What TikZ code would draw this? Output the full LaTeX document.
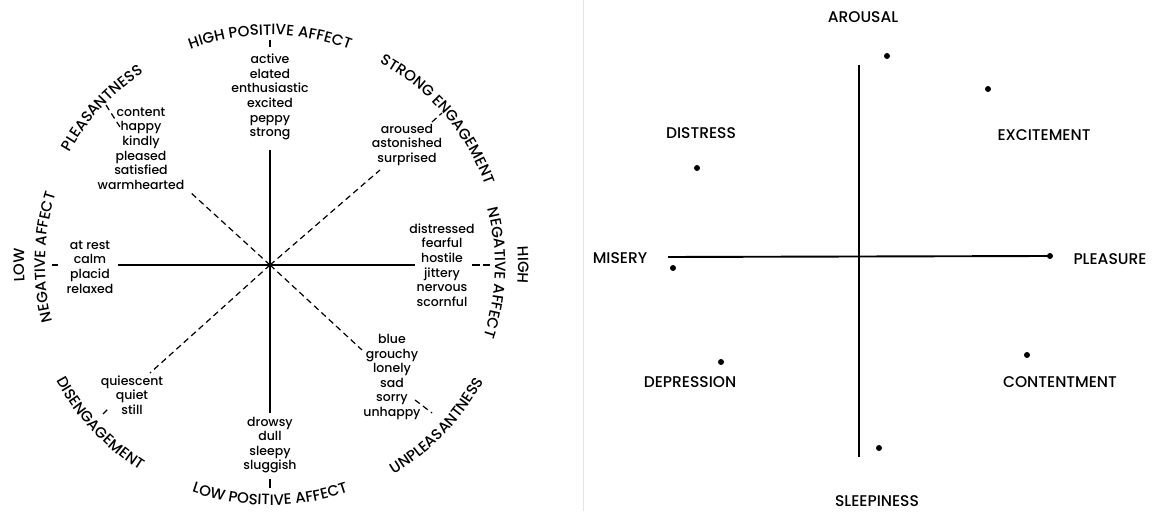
\documentclass[tikz,border=0pt]{standalone}
\usepackage{fontspec}
\setmainfont{Poppins}[UprightFont={* Medium}]
\usetikzlibrary{decorations.text}
\tikzset{
 words/.style={align=center, inner sep=0pt, font=\fontsize{12.5}{14.6}\selectfont},
 axislbl/.style={inner sep=0pt, font=\fontsize{15.5}{16}\selectfont},
 solidline/.style={line width=1.5pt},
 dashline/.style={line width=1.2pt, dash pattern=on 6pt off 4pt},
 dot/.style={circle, fill=black, inner sep=0pt, minimum size=6pt},
 arclabel/.style={decorate, decoration={text along path, text align=center, text={|\fontsize{15}{15}\selectfont|#1}}},
}
\begin{document}
\begin{tikzpicture}[x=1pt,y=1pt]
\useasboundingbox (0,0) rectangle (1153,511);
% ---------------- left circumplex ----------------
\coordinate (C) at (270,246);
\node[words] (hpa) at (270,414) {active\\elated\\enthusiastic\\excited\\peppy\\strong};
\node[words] (ple) at (141,362.5) {content\\happy\\kindly\\pleased\\satisfied\\warmhearted};
\node[words] (se) at (407,366) {aroused\\astonished\\surprised};
\node[words] (lna) at (90,244) {at rest\\calm\\placid\\relaxed};
\node[words] (hna) at (442,246) {distressed\\fearful\\hostile\\jittery\\nervous\\scornful};
\node[words] (unp) at (392,134) {blue\\grouchy\\lonely\\sad\\sorry\\unhappy};
\node[words] (dis) at (132,116) {quiescent\\quiet\\still};
\node[words] (lpa) at (270,66) {drowsy\\dull\\sleepy\\sluggish};
% axes
\coordinate (vTop) at (270,361);
\coordinate (vBot) at (270,98);
\coordinate (hL) at (118,246);
\coordinate (hR) at (415,246);
\draw[solidline] (vTop) -- (vBot);
\draw[solidline] (hL) -- (hR);
% diagonals
\coordinate (dPle) at (190,319);
\coordinate (dSe) at (380,341);
\coordinate (dUnp) at (362,161);
\coordinate (dDis) at (150,138);
\draw[dashline] (C) -- (dPle);
\draw[dashline] (C) -- (dSe);
\draw[dashline] (C) -- (dUnp);
\draw[dashline] (C) -- (dDis);
% ticks
\coordinate (tTa) at (270,471); \coordinate (tTb) at (270,464);
\coordinate (tBa) at (270,32);  \coordinate (tBb) at (270,23);
\coordinate (tLa) at (52,246);  \coordinate (tLb) at (58,246);
\coordinate (tRa) at (472,246); \coordinate (tRb) at (490,246);
\coordinate (tPa) at (106,406); \coordinate (tPb) at (120,384);
\coordinate (tSa) at (432,389); \coordinate (tSb) at (442,398);
\coordinate (tUa) at (415,111); \coordinate (tUb) at (432,98);
\coordinate (tDa) at (103,97);  \coordinate (tDb) at (110,104);
\draw[solidline] (tTa) -- (tTb);
\draw[solidline] (tBa) -- (tBb);
\draw[solidline] (tLa) -- (tLb);
\draw[dashline, dash pattern=on 8pt off 3pt] (tRa) -- (tRb);
\draw[dashline] (tPa) -- (tPb);
\draw[dashline] (tSa) -- (tSb);
\draw[dashline] (tUa) -- (tUb);
\draw[dashline] (tDa) -- (tDb);
% outer labels (clockwise)
\path[arclabel={HIGH POSITIVE AFFECT}] ([shift={(150:230)}]C) arc[start angle=150, end angle=30, radius=230];
\path[arclabel={STRONG ENGAGEMENT}] ([shift={(101:230)}]C) arc[start angle=101, end angle=-19, radius=230];
\path[arclabel={PLEASANTNESS}] ([shift={(197:230)}]C) arc[start angle=197, end angle=77, radius=230];
\path[arclabel={LOW}] ([shift={(240:246)}]C) arc[start angle=240, end angle=120, radius=246];
\path[arclabel={NEGATIVE AFFECT}] ([shift={(238:225)}]C) arc[start angle=238, end angle=118, radius=225];
\path[arclabel={HIGH}] ([shift={(60:248)}]C) arc[start angle=60, end angle=-60, radius=248];
\path[arclabel={NEGATIVE AFFECT}] ([shift={(58:225)}]C) arc[start angle=58, end angle=-62, radius=225];
% outer labels (counter-clockwise)
\path[arclabel={LOW POSITIVE AFFECT}] ([shift={(210:240)}]C) arc[start angle=210, end angle=330, radius=240];
\path[arclabel={DISENGAGEMENT}] ([shift={(163:243)}]C) arc[start angle=163, end angle=283, radius=243];
\path[arclabel={UNPLEASANTNESS}] ([shift={(256:243)}]C) arc[start angle=256, end angle=376, radius=243];
% ---------------- right plot ----------------
\coordinate (edgeT) at (583,511); \coordinate (edgeB) at (583,0);
\draw[black!10, line width=0.6pt] (edgeT) -- (edgeB);
\coordinate (aTop) at (859,446);
\coordinate (aBot) at (859,54);
\coordinate (aL) at (668,254);
\coordinate (aR) at (1050,255);
\draw[line width=1.9pt] (aTop) -- (aBot);
\draw[line width=1.9pt] (aL) -- (aR);
\node[dot] (pAro) at (887,455) {};
\node[dot] (pExc) at (988,422) {};
\node[dot] (pDis) at (697,343) {};
\node[dot] (pMis) at (673,243) {};
\node[dot] (pPle) at (1050,255) {};
\node[dot] (pDep) at (721,149) {};
\node[dot] (pCon) at (1027,156) {};
\node[dot] (pSle) at (879,63) {};
\node[axislbl] (lAro) at (863,494) {AROUSAL};
\node[axislbl] (lDis) at (701,378) {DISTRESS};
\node[axislbl] (lExc) at (1044,376) {EXCITEMENT};
\node[axislbl] (lMis) at (620,253) {MISERY};
\node[axislbl] (lPle) at (1110,252) {PLEASURE};
\node[axislbl] (lDep) at (690,129) {DEPRESSION};
\node[axislbl] (lCon) at (1060,129) {CONTENTMENT};
\node[axislbl] (lSle) at (877,10) {SLEEPINESS};
\end{tikzpicture}
\end{document}
